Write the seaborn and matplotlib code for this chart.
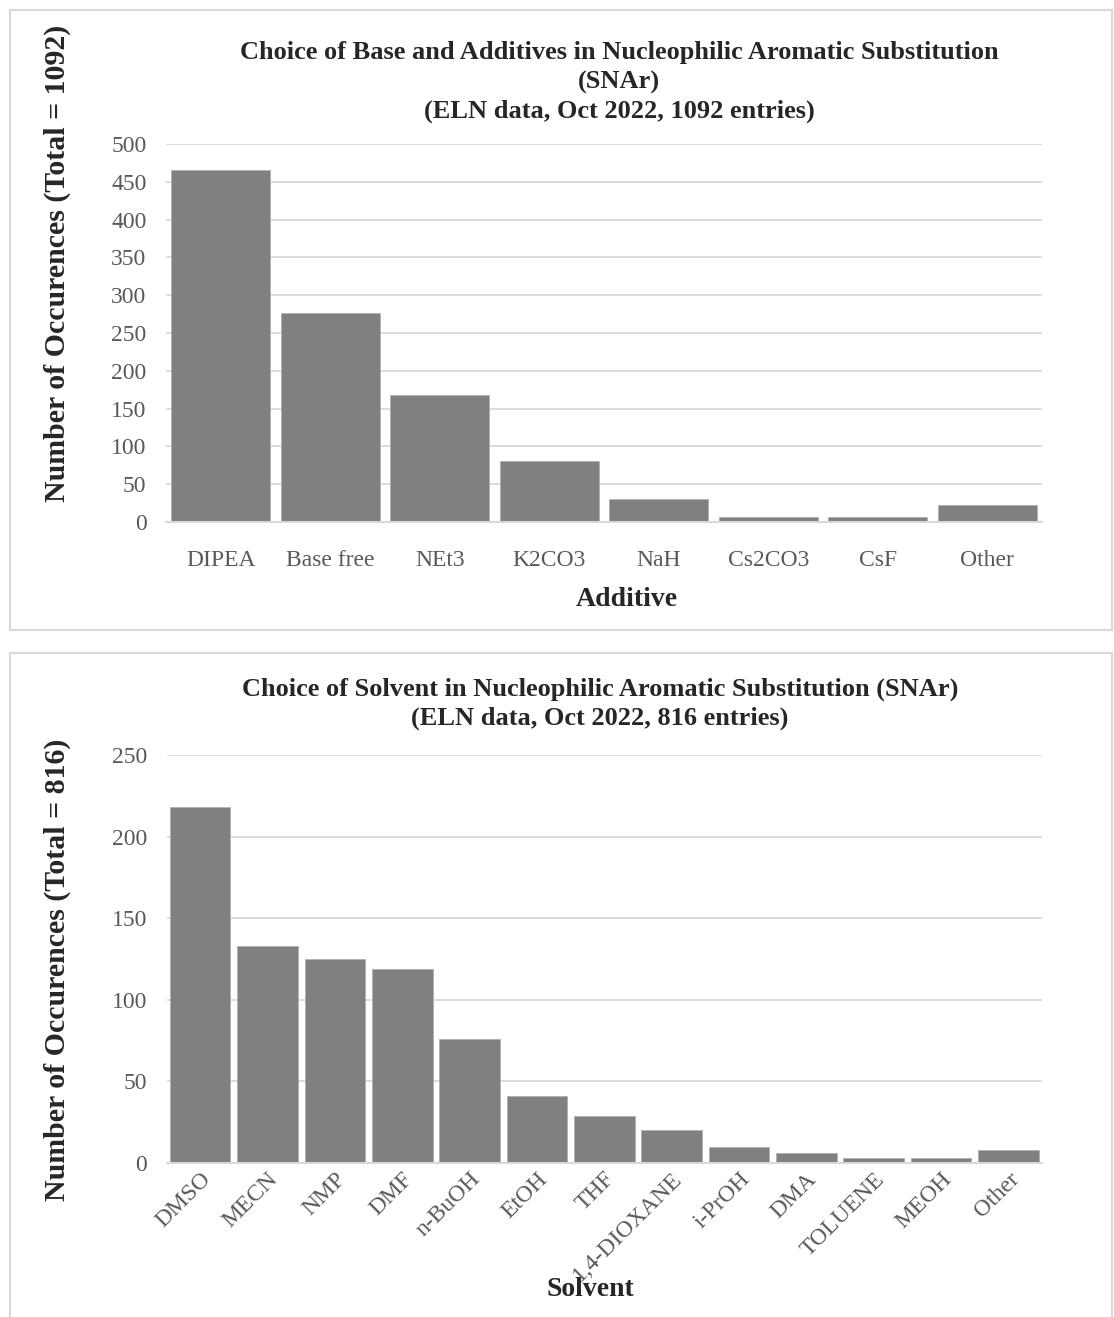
import matplotlib
matplotlib.use("Agg")
import matplotlib.pyplot as plt
from matplotlib.patches import Rectangle
import numpy as np
import pandas as pd
import seaborn as sns

# Base / additive usage
additives = ["DIPEA", "Base free", "NEt3", "K2CO3", "NaH", "Cs2CO3", "CsF", "Other"]
additive_counts = [465, 276, 168, 81, 31, 7, 6, 22]

# Solvent usage
solvents = ["DMSO", "MECN", "NMP", "DMF", "n-BuOH", "EtOH", "THF", "1,4-DIOXANE",
            "i-PrOH", "DMA", "TOLUENE", "MEOH", "Other"]
solvent_counts = [218, 133, 125, 119, 76, 41, 29, 20, 10, 6, 3, 3, 8]

title_top = ("Choice of Base and Additives in Nucleophilic Aromatic Substitution\n"
             "(SNAr)\n(ELN data, Oct 2022, 1092 entries)")
title_bottom = ("Choice of Solvent in Nucleophilic Aromatic Substitution (SNAr)\n"
                "(ELN data, Oct 2022, 816 entries)")

sns.set_theme(style="white")
plt.rcParams["font.family"] = ["Liberation Serif", "DejaVu Serif"]

W, H = 1114, 1317
fig = plt.figure(figsize=(W / 100, H / 100), dpi=100)
fig.patch.set_facecolor("white")

GRID = "#d9d9d9"
BAR = "#808080"
TICK = "#595959"
TICK_SIZE = 17


def px_rect(x0, y0, x1, y1):
    return [x0 / W, 1 - y1 / H, (x1 - x0) / W, (y1 - y0) / H]


# panel frames
for (x0, y0, x1, y1) in [(10, 10, 1112, 630), (10, 653, 1112, 1330)]:
    fig.patches.append(Rectangle((x0 / W, 1 - y1 / H), (x1 - x0) / W, (y1 - y0) / H,
                                 transform=fig.transFigure, fill=False,
                                 edgecolor=GRID, linewidth=1.5, zorder=0))


def draw_panel(ax, cats, vals, ymax, rotate):
    df = pd.DataFrame({"cat": cats, "n": vals})
    sns.barplot(data=df, x="cat", y="n", color=BAR, saturation=1, width=0.9,
                edgecolor="#b0b0b0", linewidth=0.6, ax=ax, zorder=3)
    ax.set_ylim(0, ymax)
    ax.set_xlim(-0.5, len(cats) - 0.5)
    ax.set_yticks(np.arange(0, ymax + 1, 50))
    ax.yaxis.grid(True, color=GRID, linewidth=1.3, zorder=0)
    ax.xaxis.grid(False)
    for s in ["top", "right", "left"]:
        ax.spines[s].set_visible(False)
    ax.spines["bottom"].set_color(GRID)
    ax.spines["bottom"].set_linewidth(1.5)
    ax.spines["bottom"].set_zorder(4)
    ax.tick_params(axis="y", length=0, pad=14, labelsize=TICK_SIZE, labelcolor=TICK)
    ax.set_xticks(np.arange(-0.5, len(cats), 1.0), minor=True)
    ax.tick_params(axis="x", which="minor", length=6, width=1.5, color=GRID)
    ax.tick_params(axis="x", which="major", length=0, labelsize=TICK_SIZE, labelcolor=TICK,
                   pad=20 if not rotate else 4)
    if rotate:
        for lbl in ax.get_xticklabels():
            lbl.set_rotation(45)
            lbl.set_ha("right")
            lbl.set_rotation_mode("anchor")
    ax.set_xlabel("")
    ax.set_ylabel("")
    ax.set_facecolor("white")


ax1 = fig.add_axes(px_rect(166, 144, 1042, 522))
draw_panel(ax1, additives, additive_counts, 500, False)

ax2 = fig.add_axes(px_rect(166.5, 755, 1042, 1163))
draw_panel(ax2, solvents, solvent_counts, 250, True)

# titles and axis titles
fig.text(619 / W, 1 - 82 / H, title_top, ha="center", va="center", ma="center",
         fontsize=19, fontweight="bold", linespacing=1.32)
fig.text(600 / W, 1 - 704 / H, title_bottom, ha="center", va="center", ma="center",
         fontsize=19, fontweight="bold", linespacing=1.32)

fig.text(627 / W, 1 - 600 / H, "Additive", ha="center", va="center",
         fontsize=20, fontweight="bold")
fig.text(590 / W, 1 - 1290 / H, "Solvent", ha="center", va="center",
         fontsize=20, fontweight="bold")

fig.text(57 / W, 1 - 263 / H, "Number of Occurences (Total = 1092)", ha="center",
         va="center", rotation=90, fontsize=21.5, fontweight="bold")
fig.text(57 / W, 1 - 970 / H, "Number of Occurences (Total = 816)", ha="center",
         va="center", rotation=90, fontsize=21.5, fontweight="bold")

fig.savefig("out.png", dpi=100, facecolor="white")
